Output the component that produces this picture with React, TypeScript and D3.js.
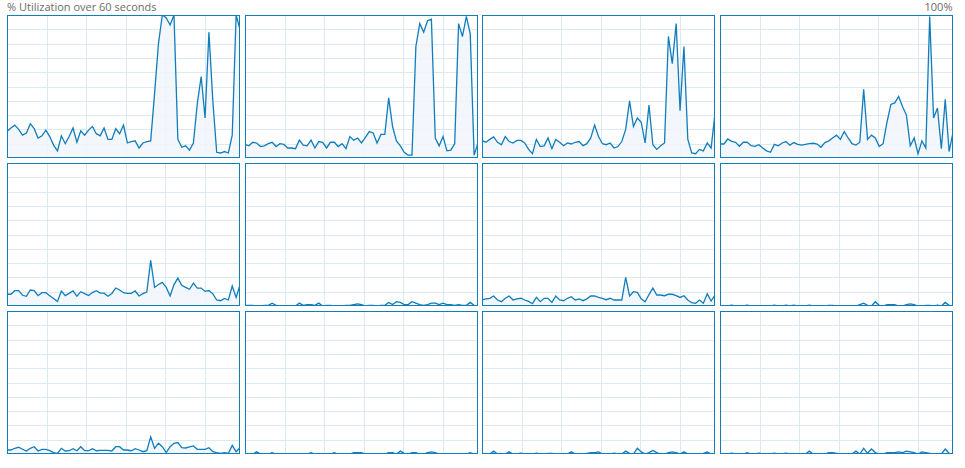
import * as d3 from 'd3';
import React from 'react';

// one value per second, 61 samples (0..60s), percent utilization per logical CPU
const cpu0 = [18.6, 21, 23, 20, 16, 17.5, 24, 20.5, 14, 15.5,
  19.5, 15, 9, 5, 15.5, 10, 15, 21, 11, 19,
  16, 19.5, 22, 17, 15.5, 21, 13, 13, 20.5, 17,
  23, 10.5, 11.5, 12, 7, 10.5, 11.5, 12, 45, 80,
  100, 98, 93, 100, 13, 7.5, 8.5, 5.5, 10.5, 38,
  57, 28, 88, 40, 4, 3.5, 4.5, 3.5, 16, 100,
  90];
const cpu1 = [9.5, 8.5, 11, 10.5, 8, 8.5, 10, 11, 8, 10,
  9.5, 7, 7, 6.5, 12.5, 9, 8.5, 12.5, 7, 11.5,
  11, 7, 11, 11, 8, 10, 6.5, 15, 12.5, 14,
  10.5, 14.5, 18.5, 17.5, 10.5, 16.5, 16.5, 42, 22, 12,
  8.5, 4, 2, 2, 78, 94, 88, 96, 97, 14,
  8.5, 15, 5, 5.5, 10, 94, 85, 99, 87, 2,
  10.5];
const cpu2 = [12.3, 11, 13, 14.7, 11, 9.3, 15, 11.5, 10.5, 12.3,
  12.3, 10.5, 6, 3, 13, 8, 8.5, 14, 6.5, 13,
  11, 8.6, 10.5, 9.8, 11, 11.5, 8.6, 10, 14, 23,
  15, 10, 9.3, 10.5, 7, 8, 11.5, 20, 40, 22,
  28, 25, 10.5, 37, 9.3, 6, 8.5, 10.5, 85, 66,
  94, 33, 78, 13, 3.5, 3, 6, 5, 10.5, 7,
  31];
const cpu3 = [9.8, 9.8, 13.3, 11.6, 11, 8.2, 11, 11, 8.6, 8.2,
  9.3, 7, 5, 4, 9.5, 8.5, 10.5, 11.5, 9, 10.8,
  9.5, 9, 9.5, 10, 10.3, 9.8, 7.5, 10.8, 12, 14,
  16, 13, 18.5, 14, 10, 9, 11, 48, 13, 16,
  14, 8, 10, 25, 37.5, 38.5, 43, 36, 30, 8.5,
  14, 3, 12, 7, 99, 28, 35, 6.5, 41, 4.5,
  18];
const cpu4 = [8.2, 8.2, 10.7, 10.7, 7.5, 6.8, 11.2, 10.8, 7.2, 9.3,
  9.3, 7.2, 5.2, 3.2, 10.5, 7.3, 8.8, 10.6, 6.8, 10,
  8.6, 7.4, 9.4, 10.7, 9, 9, 6.8, 8.8, 12.6, 11.2,
  9.3, 8.8, 8.8, 10.5, 7, 8.6, 9.8, 32, 13, 15,
  16.5, 13, 7, 15, 19.5, 14.5, 13, 11.7, 16, 12.5,
  12.5, 10.2, 10.8, 8.5, 4.2, 3.7, 5.3, 4.2, 14, 6,
  14.7];
const cpu5 = [0.5, 0.5, 0.5, 0, 0, 0.5, 0.5, 2, 0.5, 0,
  0, 0, 0, 0, 2, 0.5, 1, 1, 0.5, 2,
  0, 0.5, 0.5, 0, 0, 0, 0.5, 0.5, 1, 1.5,
  1, 0, 0.5, 0.5, 0, 0.5, 0.5, 2.5, 1, 3,
  2.5, 1, 1, 3, 2, 1, 0.5, 1, 2, 2,
  1, 2, 1, 1, 0.5, 1, 0.5, 0.5, 2.5, 0.5,
  0];
const cpu6 = [4.2, 5, 5.4, 7, 4.2, 3, 5.4, 7, 4.2, 5,
  5.4, 4.2, 3.2, 1.6, 6, 3, 5.4, 5.4, 2.5, 7,
  4.2, 3.7, 5.4, 6.5, 4.2, 5, 3.7, 5, 7, 7,
  6, 5.4, 4.4, 5.4, 4.2, 4.2, 4.2, 20, 7, 10,
  9.5, 5, 3, 8, 12.5, 7.7, 7.7, 7.2, 8.2, 8.2,
  7.2, 6, 7.2, 4.2, 2.3, 1.9, 4.2, 1.9, 8.5, 3.5,
  7.7];
const cpu7 = [0, 0, 0, 0.5, 0, 0, 0, 0.5, 0, 0,
  0, 0, 0, 0, 0.5, 0, 0, 0.5, 0, 0.5,
  0, 0, 0, 0.5, 0, 0, 0, 0, 0.5, 0.5,
  0, 0, 0, 0, 0, 0, 1, 2, 0.5, 0,
  3, 0.5, 0, 1, 1, 1, 0, 0, 1, 1.5,
  1, 0, 0, 0.5, 0.5, 0, 0.5, 0, 2.5, 0.5,
  0];
const cpu8 = [2.8, 2.8, 4, 4.7, 3.3, 2.1, 4, 5.1, 2.1, 3.3,
  3.3, 2.3, 1, 0.5, 4, 2.1, 2.3, 3.7, 2.3, 5.1,
  2.3, 2.3, 3.7, 2.3, 2.6, 2.6, 2.6, 2.1, 5.1, 5.1,
  2.8, 2.8, 2.3, 3.7, 2.8, 1.6, 2.3, 12, 4, 7.5,
  5.1, 1, 5.1, 7.5, 8, 4.4, 4.2, 4.9, 5.6, 3.3,
  3.3, 3.3, 4.4, 1.6, 1, 0.5, 1, 0.5, 6, 1.6,
  4.4];
const cpu9 = [0, 0, 0, 1.5, 0, 0, 0, 1, 0, 0,
  0, 0, 0, 0, 0, 0, 0, 1, 0, 0,
  0, 0, 0, 1, 0, 0, 0, 0, 1, 1,
  1, 0, 0, 0, 0, 0, 0, 1, 1, 0,
  2, 0.5, 0, 1, 1, 0, 0, 1, 1.5, 1,
  0, 0, 0, 0, 0, 0, 0, 0, 1, 0,
  0];
const cpu10 = [0, 0, 0, 2, 0, 0, 0, 1.5, 0, 0,
  0.5, 0, 0, 0, 0.5, 0, 0, 0.5, 0.5, 0,
  0, 0, 0, 1.5, 0, 0, 0, 0.5, 1, 1,
  1.5, 0, 0, 0, 0.5, 0, 0, 2, 0.5, 0,
  4, 1.5, 0, 1, 2.5, 1, 0, 0, 1, 1.5,
  1, 0, 1.5, 0, 0, 0, 0, 0.5, 1.5, 0,
  0];
const cpu11 = [0, 0, 0, 0.5, 0, 0, 0, 1, 0, 0,
  0.5, 0, 0, 0, 0.5, 0, 0, 0.5, 0, 0,
  0, 0, 0, 2, 0, 0, 0, 0, 1, 1,
  0.5, 0, 0, 0, 0, 2, 0, 4, 0.5, 3.5,
  1, 0, 0, 1, 1, 1, 1.5, 1, 2, 1.5,
  1, 0, 1.5, 1, 0.5, 0, 0, 0, 3.5, 0.5,
  0];

const cpus = [cpu0, cpu1, cpu2, cpu3, cpu4, cpu5, cpu6, cpu7, cpu8, cpu9, cpu10, cpu11];

const title = '% Utilization over 60 seconds';
const maxLabel = '100%';

const LINE = '#117dbb';
const FILL = '#f1f6fa';
const GRID = '#d9eaf4';

function CpuPanel({ data, idx, width, height }) {
  const x = d3.scaleLinear().domain([0, 60]).range([0, width]);
  const y = d3.scaleLinear().domain([0, 100]).range([height, 0]);

  const area = d3.area<number>()
    .x((d, i) => x(i))
    .y0(height)
    .y1(d => y(d));
  const line = d3.line<number>()
    .x((d, i) => x(i))
    .y(d => y(d));

  // grid scrolls with time, so vertical lines are not exactly every 10s
  const vLines = d3.range(1, 6).map(k => x(k * 10.2));
  const hLines = d3.range(10, 100, 10).map(v => y(v));

  return (
    <g>
      <defs>
        <clipPath id={'clip' + idx}>
          <rect x={0} y={0} width={width} height={height} />
        </clipPath>
      </defs>
      <rect x={0} y={0} width={width} height={height} fill="#fff" />
      <g clipPath={`url(#clip${idx})`}>
        {vLines.map((v, i) => (
          <line key={'v' + i} x1={Math.round(v) + 0.5} x2={Math.round(v) + 0.5} y1={0} y2={height} stroke={GRID} strokeWidth={1} />
        ))}
        {hLines.map((h, i) => (
          <line key={'h' + i} x1={0} x2={width} y1={Math.round(h) + 0.5} y2={Math.round(h) + 0.5} stroke={GRID} strokeWidth={1} />
        ))}
        <path d={area(data)} fill={FILL} fillOpacity={0.85} />
        <path d={line(data)} fill="none" stroke={LINE} strokeWidth={1.3} />
      </g>
      <rect x={0.5} y={0.5} width={width - 1} height={height - 1} fill="none" stroke={LINE} strokeWidth={1} />
    </g>
  );
}

export default function App() {
  const W = 965, H = 468;

  const cols = d3.scaleBand<number>().domain(d3.range(4)).range([7, 952.5]).paddingInner(0.02);
  const rows = d3.scaleBand<number>().domain(d3.range(3)).range([15, 454]).paddingInner(0.034);

  return (
    <svg width={W} height={H} style={{ position: 'fixed', left: 0, top: 0, background: '#fff' }}
      fontFamily='"Segoe UI", "Open Sans", "Noto Sans", sans-serif'>
      <text x={7} y={10.5} fontSize={11} fill="#6b6b6b">{title}</text>
      <text x={952.5} y={10.5} fontSize={11} fill="#6b6b6b" textAnchor="end">{maxLabel}</text>
      {cpus.map((data, i) => (
        <g key={i} transform={`translate(${Math.round(cols(i % 4))},${Math.round(rows(Math.floor(i / 4)))})`}>
          <CpuPanel data={data} idx={i} width={Math.round(cols.bandwidth())} height={Math.round(rows.bandwidth())} />
        </g>
      ))}
    </svg>
  );
}
